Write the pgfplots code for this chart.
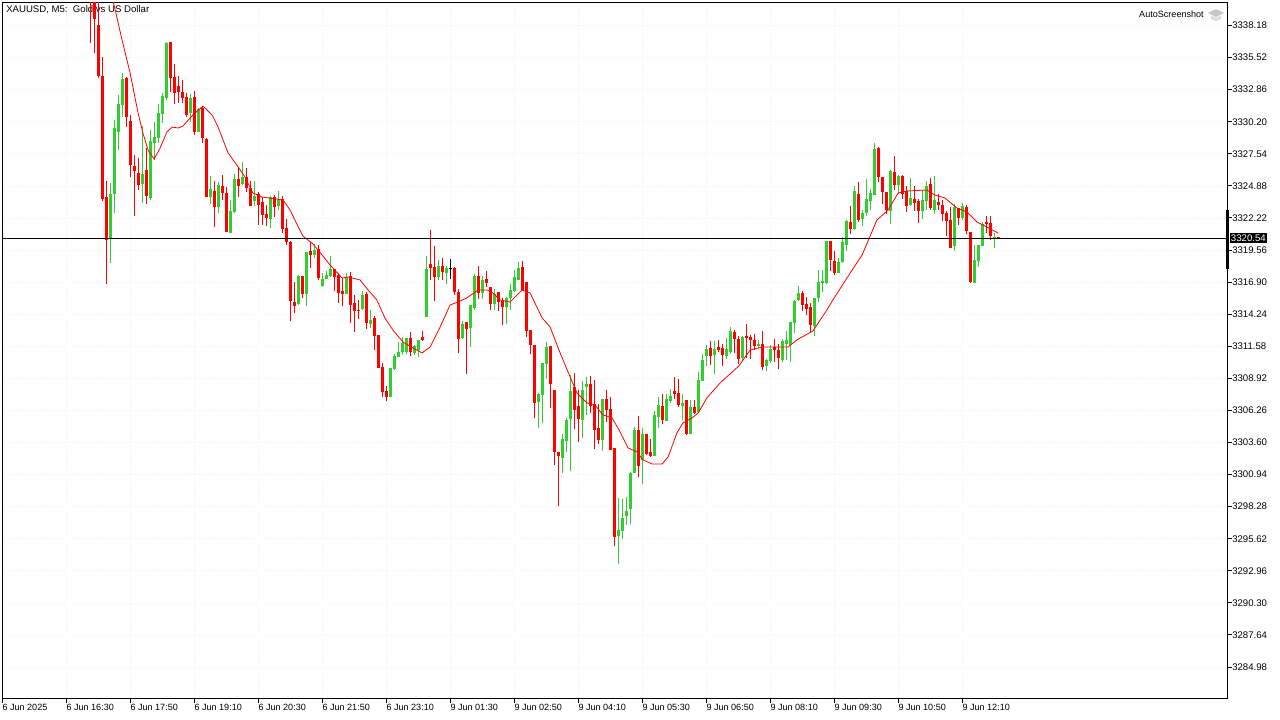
\documentclass[border=0pt]{standalone}
\usepackage{fontspec}
\setmainfont{Liberation Sans}
\usepackage{pgfplots}
\usepackage{pgfplotstable}
\pgfplotsset{compat=1.18}
\definecolor{cgreen}{HTML}{32CD32}
\definecolor{cred}{HTML}{FF0000}
\newcommand{\mtfont}{\fontsize{6.8pt}{7.5pt}\selectfont}
\newcommand{\mtfontb}{\fontsize{7.2pt}{8pt}\selectfont}
% i low high bodybottom bodytop
\pgfplotstableread{
i low high bot top
27 3318.49 3325.12 3320.48 3324.20
28 3322.63 3330.34 3324.20 3329.68
29 3327.85 3332.41 3329.35 3331.67
30 3330.59 3334.24 3331.59 3333.74
35 3323.46 3329.84 3325.04 3325.87
37 3323.71 3329.51 3323.88 3328.60
38 3327.03 3330.18 3328.44 3328.93
39 3328.44 3331.67 3328.85 3330.92
40 3330.09 3332.58 3330.84 3332.33
41 3332.00 3336.81 3332.17 3336.73
47 3330.18 3332.50 3330.92 3332.17
49 3329.35 3331.34 3329.35 3331.25
52 3323.38 3325.70 3323.96 3324.62
54 3322.63 3325.20 3323.13 3324.95
57 3320.97 3323.71 3320.97 3322.80
58 3322.63 3325.87 3322.72 3325.45
60 3324.95 3326.87 3325.04 3325.62
63 3323.21 3325.29 3323.63 3324.04
67 3321.39 3324.04 3322.13 3323.96
69 3322.88 3324.46 3323.21 3323.71
74 3315.01 3317.49 3315.09 3317.41
76 3314.92 3319.40 3315.92 3319.40
78 3318.90 3320.06 3319.15 3319.56
80 3316.50 3317.66 3316.58 3317.16
81 3317.16 3317.82 3317.16 3317.49
82 3317.33 3319.07 3317.41 3317.99
86 3315.92 3317.66 3315.92 3317.33
90 3314.59 3316.17 3314.67 3315.84
92 3313.10 3314.59 3313.43 3313.76
97 3307.38 3309.78 3307.38 3309.78
98 3309.61 3310.94 3309.70 3310.78
99 3310.70 3311.94 3310.70 3311.11
100 3310.87 3312.35 3311.11 3311.86
101 3310.94 3312.27 3311.11 3312.27
103 3310.87 3311.69 3311.03 3311.61
104 3310.70 3312.11 3311.27 3312.11
106 3314.01 3319.07 3314.01 3317.99
109 3317.08 3318.74 3317.33 3318.24
111 3316.75 3318.24 3317.66 3318.07
115 3312.19 3313.68 3312.27 3313.43
117 3311.52 3315.01 3313.10 3315.01
118 3314.59 3317.58 3314.76 3317.41
120 3315.50 3317.41 3316.00 3317.08
123 3314.59 3316.33 3315.09 3315.92
126 3313.43 3315.67 3314.84 3315.59
127 3314.59 3316.75 3315.59 3316.25
128 3316.08 3317.91 3316.17 3317.33
129 3317.08 3318.57 3317.08 3318.07
134 3304.81 3307.71 3306.96 3307.63
135 3305.22 3310.20 3307.54 3310.20
136 3308.87 3311.94 3310.11 3311.52
140 3301.08 3304.31 3302.32 3303.90
141 3302.82 3305.64 3303.73 3305.47
142 3301.25 3309.21 3305.56 3307.88
145 3303.98 3308.71 3305.47 3307.96
146 3305.89 3309.04 3308.21 3308.46
150 3302.90 3307.21 3303.81 3307.21
154 3293.53 3299.01 3295.85 3296.35
155 3295.60 3298.92 3296.27 3297.35
156 3296.77 3299.09 3297.52 3297.93
157 3296.85 3301.16 3298.09 3301.08
158 3301.08 3304.89 3301.08 3304.65
160 3300.17 3304.81 3302.16 3304.31
163 3302.49 3306.22 3302.49 3305.89
164 3304.81 3307.38 3305.72 3306.72
166 3305.39 3307.63 3305.39 3307.21
167 3306.88 3308.04 3307.05 3307.46
170 3305.47 3307.63 3306.63 3306.88
172 3304.31 3307.13 3304.31 3306.55
174 3306.14 3309.45 3306.14 3308.79
175 3308.71 3310.94 3308.71 3310.45
176 3309.95 3311.69 3310.78 3311.36
178 3309.29 3312.02 3310.87 3311.36
181 3310.53 3312.27 3310.78 3311.36
182 3310.94 3313.18 3311.11 3312.85
185 3310.45 3312.44 3310.61 3312.35
189 3311.44 3312.11 3311.61 3311.77
191 3309.53 3310.53 3309.95 3310.45
192 3310.20 3311.69 3310.36 3311.36
195 3310.28 3312.19 3310.45 3312.02
196 3310.45 3312.85 3311.77 3312.11
197 3310.28 3313.60 3311.69 3313.60
198 3312.69 3315.42 3313.51 3315.34
199 3315.34 3316.58 3315.42 3316.00
203 3312.44 3315.59 3313.26 3315.59
204 3315.25 3317.91 3315.59 3316.91
205 3316.08 3317.91 3316.83 3317.00
206 3316.75 3320.31 3316.83 3320.31
209 3317.66 3318.90 3317.66 3318.57
210 3318.49 3320.64 3318.57 3320.23
211 3319.48 3322.05 3319.98 3321.97
213 3321.22 3324.87 3321.30 3324.46
215 3321.55 3322.88 3322.13 3322.63
216 3322.38 3325.45 3322.63 3323.79
217 3322.88 3324.62 3323.63 3324.29
218 3324.12 3328.44 3324.12 3327.94
222 3321.72 3326.20 3322.80 3326.11
224 3324.20 3325.78 3324.95 3325.70
227 3323.21 3325.53 3323.30 3323.88
230 3322.13 3324.54 3322.80 3323.71
231 3322.88 3325.29 3323.63 3324.87
233 3322.55 3325.70 3322.88 3323.71
238 3319.48 3323.38 3319.90 3323.13
240 3322.05 3323.46 3322.22 3323.21
243 3316.83 3319.98 3316.83 3318.74
244 3318.16 3319.98 3318.65 3319.98
245 3319.90 3321.89 3319.90 3321.72
248 3319.73 3320.97 3320.56 3320.64
}\greentable
\pgfplotstableread{
i low high bot top
22 3336.73 3343.61 3340.37 3341.12
23 3335.90 3342.78 3338.71 3341.95
24 3333.82 3340.70 3333.99 3338.22
25 3323.63 3335.56 3323.79 3333.99
26 3316.75 3325.29 3320.39 3323.96
31 3329.76 3333.91 3330.59 3333.82
32 3325.62 3330.76 3326.61 3330.26
33 3322.38 3327.44 3326.11 3326.53
34 3324.54 3327.19 3324.95 3325.95
36 3323.38 3328.02 3324.04 3326.20
42 3332.66 3336.81 3333.82 3336.81
43 3331.67 3334.98 3332.58 3333.91
44 3331.75 3333.99 3332.66 3333.16
45 3331.75 3333.66 3332.17 3332.66
46 3330.59 3332.58 3330.76 3332.25
48 3329.10 3332.75 3329.35 3332.25
50 3328.44 3331.50 3328.85 3331.34
51 3323.96 3328.85 3323.96 3328.77
53 3321.47 3325.29 3323.13 3324.46
55 3323.71 3325.78 3324.29 3324.87
56 3321.06 3324.79 3321.06 3324.29
59 3323.96 3326.45 3324.87 3325.45
61 3324.37 3326.37 3324.71 3325.62
62 3323.21 3325.29 3323.21 3324.71
64 3321.64 3324.37 3323.30 3324.20
65 3321.64 3323.96 3322.47 3323.54
66 3321.55 3323.30 3322.22 3322.55
68 3322.30 3324.12 3323.13 3323.96
70 3320.97 3324.04 3321.30 3323.79
71 3319.98 3322.13 3320.23 3321.39
72 3313.68 3320.31 3315.34 3320.23
73 3314.34 3316.91 3314.92 3315.25
75 3315.59 3317.41 3315.92 3317.41
77 3318.07 3320.23 3319.15 3319.48
79 3317.08 3319.98 3317.24 3319.65
83 3316.17 3317.99 3317.33 3317.99
84 3315.17 3317.66 3316.00 3317.49
85 3314.92 3317.24 3315.92 3316.17
87 3313.51 3317.74 3315.01 3317.41
88 3312.77 3315.84 3314.50 3315.17
89 3313.84 3315.42 3314.50 3314.59
91 3313.02 3316.08 3313.51 3315.92
93 3311.27 3314.09 3312.44 3313.93
94 3309.78 3312.52 3309.78 3312.52
95 3307.38 3310.20 3307.79 3309.87
96 3307.05 3308.29 3307.38 3307.88
102 3310.78 3312.77 3311.11 3312.27
105 3312.02 3312.85 3312.11 3312.35
107 3317.08 3321.22 3318.07 3318.40
108 3315.34 3319.90 3317.33 3318.16
110 3317.08 3318.90 3317.74 3318.24
113 3315.84 3318.16 3316.08 3318.07
114 3311.03 3316.33 3312.19 3316.08
116 3309.29 3313.60 3313.02 3313.60
119 3315.50 3318.24 3316.00 3317.41
121 3316.50 3317.82 3316.83 3317.16
122 3314.59 3316.50 3315.09 3316.50
124 3314.50 3316.08 3315.25 3316.08
125 3313.35 3315.59 3314.84 3315.34
130 3316.25 3318.65 3316.25 3318.16
131 3312.35 3316.91 3312.85 3316.91
132 3310.94 3312.93 3311.69 3312.93
133 3305.64 3311.69 3306.88 3311.69
137 3306.47 3311.61 3308.46 3311.61
138 3301.74 3307.96 3302.82 3307.96
139 3298.34 3302.82 3302.49 3302.82
143 3304.73 3309.37 3306.30 3308.21
144 3303.65 3307.96 3305.56 3306.63
147 3306.05 3309.12 3306.63 3308.46
148 3303.07 3308.79 3304.65 3306.80
149 3303.48 3306.80 3303.81 3304.81
151 3305.31 3307.96 3306.30 3307.21
152 3302.98 3307.38 3302.98 3306.38
153 3295.03 3303.15 3295.77 3303.15
159 3300.75 3305.80 3301.66 3304.65
161 3302.57 3304.31 3302.65 3304.31
162 3302.40 3303.90 3302.49 3302.82
165 3305.14 3307.63 3305.47 3306.63
168 3307.21 3309.04 3307.63 3307.88
169 3306.55 3308.87 3306.72 3307.71
171 3304.23 3307.13 3304.31 3307.13
173 3305.97 3307.13 3306.05 3306.55
177 3310.03 3312.02 3310.78 3311.44
179 3311.11 3312.11 3311.27 3311.52
180 3309.95 3311.77 3310.87 3311.44
183 3311.03 3312.93 3312.19 3312.77
184 3310.11 3312.44 3310.53 3312.19
186 3310.61 3313.43 3312.27 3312.44
187 3310.53 3312.52 3312.11 3312.35
188 3311.27 3312.60 3311.61 3312.11
190 3309.61 3312.85 3309.87 3311.77
193 3310.28 3312.19 3311.27 3311.52
194 3309.70 3311.77 3310.61 3311.27
200 3314.50 3316.17 3315.01 3316.00
201 3314.18 3315.67 3314.67 3315.09
202 3312.77 3315.17 3313.35 3314.84
207 3317.82 3320.31 3318.74 3320.31
208 3317.49 3319.48 3317.66 3318.65
212 3320.89 3323.21 3321.30 3321.89
214 3321.89 3325.20 3322.05 3324.20
219 3325.20 3328.10 3325.62 3328.02
220 3323.38 3325.62 3324.37 3325.62
221 3322.55 3324.37 3322.88 3324.37
223 3324.54 3327.36 3324.95 3326.03
225 3323.79 3325.78 3324.20 3325.70
226 3322.72 3324.87 3323.21 3324.46
228 3322.80 3324.87 3323.46 3323.79
229 3321.80 3323.79 3322.80 3323.63
232 3322.88 3325.53 3323.05 3325.04
234 3322.88 3324.20 3323.30 3323.54
235 3321.97 3323.71 3322.55 3323.30
236 3320.72 3322.80 3321.97 3322.63
237 3319.73 3323.13 3319.73 3322.05
239 3321.64 3323.05 3322.22 3323.05
241 3320.89 3323.30 3321.14 3323.13
242 3316.83 3321.06 3316.91 3321.06
246 3320.97 3322.38 3321.72 3321.89
247 3320.39 3322.38 3320.72 3321.80
249 3320.48 3320.64 3320.48 3320.64
}\redtable
\pgfplotstableread{
i low high bot top
112 3317.16 3318.82 3317.99 3318.07
}\dojitable
\pgfplotstableread{
i ma
26.5 3342.00
27.6 3340.29
29.9 3336.97
31.9 3334.24
33.9 3330.92
35.1 3329.27
36.4 3327.85
37.9 3327.11
39.4 3328.02
41.1 3329.35
42.4 3329.76
43.9 3329.68
45.1 3329.84
47.6 3330.76
50.1 3331.50
52.4 3330.76
53.9 3329.76
56.4 3327.61
58.6 3326.61
60.6 3325.62
62.6 3324.29
64.9 3323.96
70.1 3323.71
71.9 3322.88
73.1 3322.05
75.1 3320.72
77.4 3320.14
79.9 3319.15
81.9 3318.32
84.9 3317.24
86.4 3317.33
89.4 3317.08
91.4 3316.25
93.6 3315.42
95.6 3313.93
97.6 3312.93
100.1 3311.94
102.6 3311.44
104.9 3311.03
106.9 3311.52
109.4 3313.18
111.9 3315.01
113.9 3315.25
116.1 3315.59
118.9 3316.25
121.1 3316.25
122.6 3316.00
124.4 3315.42
126.9 3315.25
129.9 3316.25
131.9 3316.00
134.9 3313.93
136.9 3313.18
139.4 3311.03
141.9 3309.04
143.6 3307.71
146.1 3306.88
148.1 3306.72
150.1 3305.89
152.4 3305.64
154.4 3304.48
156.4 3303.15
158.6 3302.82
160.1 3302.16
162.4 3301.82
164.9 3301.82
166.4 3302.40
168.6 3304.39
170.1 3305.22
172.4 3305.64
173.9 3306.05
176.1 3307.30
179.4 3308.54
184.1 3309.95
186.9 3311.27
189.9 3311.52
196.4 3311.52
198.6 3312.11
202.6 3312.85
206.1 3314.59
207.6 3315.42
211.1 3317.24
214.9 3319.15
218.6 3322.05
221.4 3322.88
223.9 3324.29
226.1 3324.46
231.1 3324.54
233.1 3324.12
235.6 3323.88
238.6 3323.05
241.1 3322.72
243.6 3321.89
246.1 3321.47
248.9 3320.97
}\matable
\pgfplotsset{
  candlewick/.style={draw=none, mark=none, forget plot,
    error bars/.cd, y dir=plus, y explicit, error mark=none,
    error bar style={draw=#1, solid, line width=0.8pt}},
  candlebody/.style={draw=none, mark=none, forget plot,
    error bars/.cd, y dir=plus, y explicit, error mark=none,
    error bar style={draw=#1, solid, line width=2.45pt}},
}
\begin{document}
\begin{tikzpicture}
\useasboundingbox (-1.875pt,-15.75pt) rectangle (958.125pt,524.25pt);
\begin{axis}[
  at={(0pt,0pt)}, anchor=south west,
  scale only axis, width=918.75pt, height=522.375pt,
  xmin=0, xmax=306.25, ymin=3282.33, ymax=3340.09,
  clip mode=individual,
  axis line style={black, line width=0.75pt},
  tick style={black, line width=0.75pt},
  major tick length=3pt,
  tick align=outside,
  xtick pos=bottom, ytick pos=right, yticklabel pos=right,
  grid=major, grid style={densely dotted, color=black!4, line width=0.5pt},
  xtick={0,16,32,48,64,80,96,112,128,144,160,176,192,208,224,240},
  xticklabels={6 Jun 2025,6 Jun 16:30,6 Jun 17:50,6 Jun 19:10,6 Jun 20:30,6 Jun 21:50,6 Jun 23:10,9 Jun 01:30,9 Jun 02:50,9 Jun 04:10,9 Jun 05:30,9 Jun 06:50,9 Jun 08:10,9 Jun 09:30,9 Jun 10:50,9 Jun 12:10},
  ytick={3338.18,3335.52,3332.86,3330.20,3327.54,3324.88,3322.22,3319.56,3316.90,3314.24,3311.58,3308.92,3306.26,3303.60,3300.94,3298.28,3295.62,3292.96,3290.30,3287.64,3284.98},
  yticklabels={3338.18,3335.52,3332.86,3330.20,3327.54,3324.88,3322.22,3319.56,3316.90,3314.24,3311.58,3308.92,3306.26,3303.60,3300.94,3298.28,3295.62,3292.96,3290.30,3287.64,3284.98},
  xticklabel style={font=\mtfont, anchor=north west, inner sep=0pt, xshift=-0.2pt, yshift=-0.9pt},
  yticklabel style={font=\mtfontb, anchor=west, inner sep=0pt, xshift=0.4pt},
]
\node[anchor=west, inner sep=0pt, font=\mtfontb] at (rel axis cs:0.0029,0.9895) {XAUUSD, M5:\ \ Gold vs US Dollar};
\node[anchor=east, inner sep=0pt, font=\mtfont] at (rel axis cs:0.9808,0.9835) {AutoScreenshot};

\addplot[candlewick=cgreen] table[x=i, y=low, y error expr=\thisrow{high}-\thisrow{low}] {\greentable};
\addplot[candlebody=cgreen] table[x=i, y=bot, y error expr=\thisrow{top}-\thisrow{bot}] {\greentable};
\addplot[candlewick=cred] table[x=i, y=low, y error expr=\thisrow{high}-\thisrow{low}] {\redtable};
\addplot[candlebody=cred] table[x=i, y=bot, y error expr=\thisrow{top}-\thisrow{bot}] {\redtable};
\addplot[candlewick=black] table[x=i, y=low, y error expr=\thisrow{high}-\thisrow{low}] {\dojitable};
\addplot[candlebody=black] table[x=i, y=bot, y error expr=\thisrow{top}-\thisrow{bot}] {\dojitable};

\addplot[cred, line width=0.6pt, mark=none, forget plot] table[x=i, y=ma] {\matable};
\addplot[black, line width=0.75pt, mark=none, forget plot] coordinates {(0,3320.54)(306.25,3320.54)};

\draw[black, line width=2.25pt] (axis cs:306.25,3322.88) -- (axis cs:306.25,3317.99);
\node[anchor=west, fill=black, text=white, inner xsep=0.9pt, inner ysep=0pt, minimum height=7.5pt, font=\mtfontb, xshift=1.5pt] at (axis cs:306.25,3320.54) {3320.54};
\end{axis}
% graduation-cap icon of the AutoScreenshot label (top right of the frame)
\begin{scope}[shift={(-1.875pt,524.25pt)}, x=0.75pt, y=-0.75pt]
\fill[black!22] (1208,13) -- (1216,9) -- (1224,13) -- (1216,17) -- cycle;
\fill[black!14] (1211,15.5) -- (1216,18) -- (1221,15.5) -- (1221,19) -- (1216,21) -- (1211,19) -- cycle;
\end{scope}
\end{tikzpicture}
\end{document}
